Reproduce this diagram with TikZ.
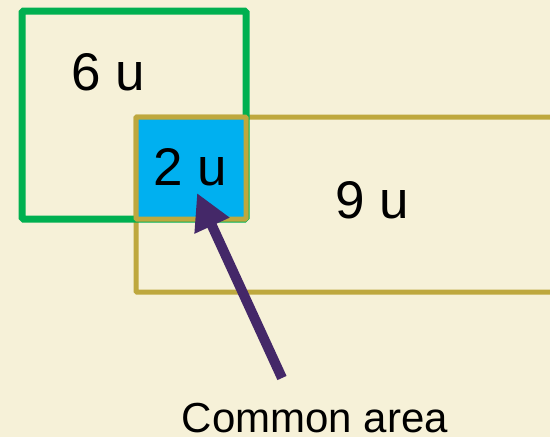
\documentclass[tikz,border=0pt]{standalone}
\usepackage{fontspec}
\setmainfont{Liberation Sans}
\usepackage{xcolor}
\usetikzlibrary{arrows.meta}

\definecolor{paper}{RGB}{246,241,216}
\definecolor{sqgreen}{RGB}{0,176,80}
\definecolor{olive}{RGB}{190,168,62}
\definecolor{overlap}{RGB}{0,176,240}
\definecolor{pointer}{RGB}{68,40,104}

\begin{document}
\begin{tikzpicture}[
    x=1pt, y=-1pt,
    squarebox/.style={draw=sqgreen, line width=7pt, rounded corners=1.5pt},
    rectbox/.style={draw=olive, line width=5pt, rounded corners=1pt},
    commonbox/.style={draw=olive, fill=overlap, line width=5pt, rounded corners=1pt},
    size/.style={anchor=base, inner sep=0pt, font=\fontsize{53}{60}\selectfont},
    caption/.style={anchor=base, inner sep=0pt, font=\fontsize{42}{50}\selectfont},
    pointer/.style={draw=pointer, line width=10pt, -{Triangle[length=36pt,width=36pt]}}
]
    \clip (0,0) rectangle (550,437);
    \fill[paper] (0,0) rectangle (550,437);

    % the two shapes and their overlap
    \draw[rectbox]   (136,117) rectangle (570,292);
    \draw[squarebox] (22,11)   rectangle (246,219);
    \draw[commonbox] (136,117) rectangle (246,219);

    \node[size] (big)    at (108,90)  {6 u};
    \node[size] (common) at (190,185) {2 u};
    \node[size] (long)   at (372,218) {9 u};
    \node[caption] (area) at (315,432) {Common area};

    \coordinate (tail) at (282,378);
    \coordinate (tip)  at (197,193);
    \draw[pointer] (tail) -- (tip);
\end{tikzpicture}
\end{document}
